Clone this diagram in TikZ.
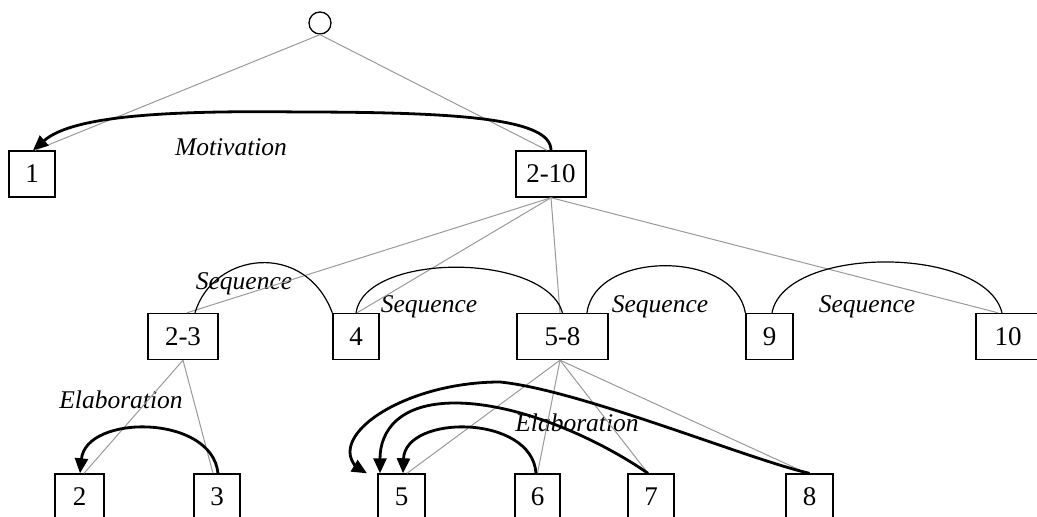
\documentclass[tikz,border=0pt]{standalone}
\usepackage{fontspec}
\setmainfont{Liberation Serif}
\usetikzlibrary{arrows.meta}
\begin{document}
\begin{tikzpicture}[x=1pt,y=-1pt,
  box/.style={draw,line width=1.4pt,minimum height=46pt,inner sep=0pt,font=\fontsize{27}{30}\selectfont},
  tree/.style={draw=black!40,line width=1pt},
  seq/.style={draw=black,line width=1.2pt},
  rel/.style={draw=black,line width=2.8pt,-{Triangle[length=15pt,width=13pt]}},
  lbl/.style={font=\fontsize{25.5}{28}\selectfont\itshape,inner sep=0pt}]
\useasboundingbox (0,0) rectangle (1037,517);
% nodes
\node[circle,draw,line width=1.3pt,minimum size=22pt,inner sep=0pt] (root) at (320,23) {};
\node[box,minimum width=46pt] (b1) at (32,174) {1};
\node[box,minimum width=70pt] (b210) at (551,174) {2-10};
\node[box,minimum width=70pt] (b23) at (183,336.5) {2-3};
\node[box,minimum width=46pt] (b4) at (356,336.5) {4};
\node[box,minimum width=91pt] (b58) at (562.5,336.5) {5-8};
\node[box,minimum width=47pt] (b9) at (769.5,336.5) {9};
\node[box,minimum width=64pt] (b10) at (1008,336.5) {10};
\node[box,minimum width=49pt] (b2) at (79.5,497) {2};
\node[box,minimum width=46pt] (b3) at (217,497) {3};
\node[box,minimum width=47pt] (b5) at (401.5,497) {5};
\node[box,minimum width=45pt] (b6) at (537.5,497) {6};
\node[box,minimum width=46pt] (b7) at (651,497) {7};
\node[box,minimum width=47pt] (b8) at (809.5,497) {8};
% labels
\node[lbl] (lmot) at (231,147) {Motivation};
\node[lbl] (ls1) at (244,284) {Sequence};
\node[lbl] (ls2) at (429,307) {Sequence};
\node[lbl] (ls3) at (660,307) {Sequence};
\node[lbl] (ls4) at (867,307) {Sequence};
\node[lbl] (le1) at (121,400) {Elaboration};
\node[lbl] (le2) at (577,423) {Elaboration};
% tree lines
\draw[tree] (root.south) -- ([xshift=3pt]b1.north);
\draw[tree] (root.south) -- ([xshift=-4pt]b210.north);
\draw[tree] (b210.south) -- ([xshift=4pt]b23.north);
\draw[tree] (b210.south) -- ([xshift=1pt]b4.north);
\draw[tree] (b210.south) -- ([xshift=-2.5pt]b58.north);
\draw[tree] (b210.south) -- ([xshift=-10pt]b10.north);
\draw[tree] (b23.south) -- ([xshift=4.5pt]b2.north);
\draw[tree] (b23.south) -- ([xshift=-4pt]b3.north);
\draw[tree] ([xshift=-2.5pt]b58.south) -- ([xshift=5.5pt]b5.north);
\draw[tree] ([xshift=-2.5pt]b58.south) -- (b6.north);
\draw[tree] ([xshift=-2.5pt]b58.south) -- ([xshift=-3pt]b7.north);
\draw[tree] ([xshift=-2.5pt]b58.south) -- ([xshift=-2.5pt]b8.north);
% sequence arcs
\draw[seq] ([xshift=12pt]b23.north) .. controls (213,252) and (305,240) .. (b4.north west);
\draw[seq] (b4.north) .. controls (365,252) and (545,252) .. (b58.north);
\draw[seq] ([xshift=24.5pt]b58.north) .. controls (595,250) and (735,250) .. (b9.north west);
\draw[seq] ([xshift=2.5pt]b9.north) .. controls (785,245) and (985,245) .. ([xshift=-6pt]b10.north);
% motivation
\draw[rel] (b210.north) .. controls (551,120) and (470,112) .. (300,112)
  .. controls (150,110) and (70,118) .. ([xshift=1pt]b1.north);
% elaborations
\draw[rel] ([xshift=1pt]b3.north) .. controls (212,414) and (86,414) .. ([xshift=0.5pt]b2.north);
\draw[rel] ([xshift=-1.5pt]b6.north) .. controls (532,414) and (405,414) .. ([xshift=1.5pt]b5.north);
\draw[rel] ([xshift=-3pt]b7.north) .. controls (600,440) and (520,403) .. (455,403)
  .. controls (400,403) and (380,430) .. ([xshift=-21.5pt]b5.north);
\draw[rel] (b8.north) .. controls (750,460) and (580,390) .. (500,382)
  .. controls (420,382) and (350,420) .. (350,452)
  .. controls (350,462) and (358,468) .. ([xshift=-34.5pt]b5.north);
\end{tikzpicture}
\end{document}
